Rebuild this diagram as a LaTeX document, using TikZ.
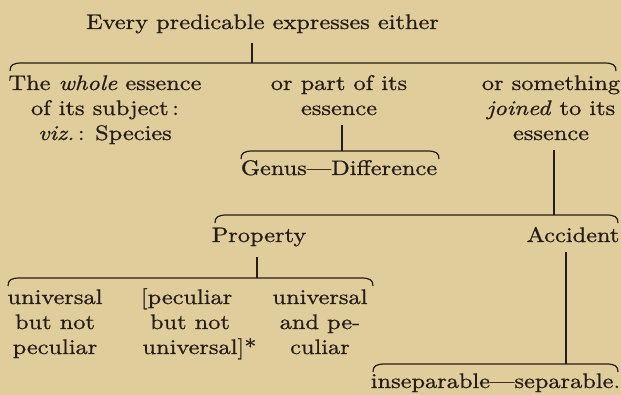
\documentclass[tikz,border=0pt]{standalone}
\usepackage{fontspec}
\setmainfont{lmroman10-regular.otf}[ItalicFont=lmroman10-italic.otf,FakeStretch=1.16,FakeBold=0.9]
\definecolor{paper}{RGB}{223,206,155}
\definecolor{ink}{RGB}{38,28,20}
\newcommand{\hookline}[3]{%
  \draw[brace] (#1,#3+8) .. controls (#1,#3+2) and (#1+3,#3) .. (#1+12,#3)
    -- (#2-12,#3) .. controls (#2-3,#3) and (#2,#3+2) .. (#2,#3+8);}
\begin{document}
\begin{tikzpicture}[x=1pt,y=-1pt,
  txt/.style={font=\fontsize{21}{25}\selectfont, text=ink, inner sep=0pt, align=center, anchor=base},
  brace/.style={draw=ink, line width=1.2pt},
  link/.style={draw=ink, line width=1.2pt}]
\fill[paper] (0,0) rectangle (621,395);
\useasboundingbox (0,0) rectangle (621,395);

% multi-line nodes: the base anchor is the baseline of the last line
\node[txt] (title) at (262.5,29) {Every predicable expresses either};
\node[txt] (whole) at (105,140) {The \textit{whole} essence\\of its subject\,:\\\textit{viz.}\,:\enspace Species};
\node[txt] (part) at (339,115) {or part of its\\essence};
\node[txt] (joined) at (551,140) {or something\\\textit{joined} to its\\essence};
\node[txt] (genus) at (339,175) {Genus---Difference};
\node[txt] (prop) at (259,242) {Property};
\node[txt] (acc) at (573,242) {Accident};
\node[txt] (c1) at (55,354) {universal\\but not\\peculiar};
\node[txt] (c2) at (190,354) {\llap{[}peculiar\\but not\\universal\rlap{]*}};
\node[txt] (c3) at (320,354) {universal\\and pe-\\culiar};
\node[txt] (ins) at (495.5,388) {inseparable---separable.};

\coordinate (b1) at (252,63);
\coordinate (b2) at (342,151);
\coordinate (b3) at (554,215);
\coordinate (b4) at (257,278);
\coordinate (b5) at (566,364);

\hookline{10}{616}{63}
\hookline{241}{439}{151}
\hookline{215}{618}{215}
\hookline{8}{373}{278}
\hookline{373}{618}{364}

\draw[link] ([yshift=-9pt]title.south -| b1) -- (b1);
\draw[link] ([yshift=-10pt]part.south -| b2) -- (b2);
\draw[link] ([yshift=-10pt]joined.south -| b3) -- (b3);
\draw[link] ([yshift=-10pt]prop.south -| b4) -- (b4);
\draw[link] ([yshift=-10pt]acc.south -| b5) -- (b5);
\end{tikzpicture}
\end{document}
